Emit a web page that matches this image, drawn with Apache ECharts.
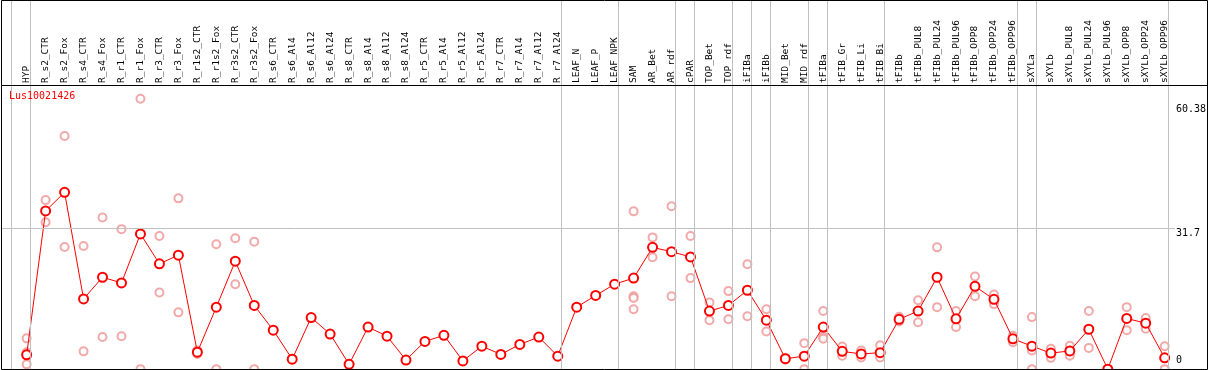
<!DOCTYPE html>
<html>
<head>
<meta charset="utf-8">
<script src="https://cdn.jsdelivr.net/npm/echarts@6/dist/echarts.min.js"></script>
<style>
  html, body { margin: 0; padding: 0; background: #fff; }
  #chart { width: 1209px; height: 370px; }
</style>
</head>
<body>
<div id="chart"></div>
<script>
const geneName = 'Lus10021426';
const categories = ['HYP','R_s2_CTR','R_s2_Fox','R_s4_CTR','R_s4_Fox','R_r1_CTR','R_r1_Fox','R_r3_CTR','R_r3_Fox',
  'R_r1s2_CTR','R_r1s2_Fox','R_r3s2_CTR','R_r3s2_Fox','R_s6_CTR','R_s6_Al4','R_s6_Al12','R_s6_Al24',
  'R_s8_CTR','R_s8_Al4','R_s8_Al12','R_s8_Al24','R_r5_CTR','R_r5_Al4','R_r5_Al12','R_r5_Al24',
  'R_r7_CTR','R_r7_Al4','R_r7_Al12','R_r7_Al24','LEAF_N','LEAF_P','LEAF_NPK','SAM','AR_Bet','AR_rdf',
  'cPAR','TOP_Bet','TOP_rdf','iFIBa','iFIBb','MID_Bet','MID_rdf','tFIBa','tFIB_Gr','tFIB_Li','tFIB_Bi',
  'tFIBb','tFIBb_PUL8','tFIBb_PUL24','tFIBb_PUL96','tFIBb_OPP8','tFIBb_OPP24','tFIBb_OPP96',
  'sXYLa','sXYLb','sXYLb_PUL8','sXYLb_PUL24','sXYLb_PUL96','sXYLb_OPP8','sXYLb_OPP24','sXYLb_OPP96'];
const means = [2.5,35.7,40.0,15.4,20.4,19.1,30.4,23.5,25.5,3.1,
  13.5,24.1,13.9,8.2,1.5,11.1,7.3,0.3,8.9,6.8,
  1.3,5.6,7.0,1.1,4.5,2.6,4.9,6.6,2.2,13.5,
  16.2,18.8,20.2,27.3,26.3,25.1,12.6,13.9,17.4,10.5,
  1.6,2.2,8.9,3.3,2.7,3.0,10.7,12.6,20.4,10.8,
  18.3,15.3,6.2,4.5,2.9,3.4,8.4,-0.8,10.9,9.8,
  1.8];
const replicates = [
  [6.3,3.1,0.3],[38.2,33.1],[53.0,27.4],[27.6,3.3],[34.2,6.6],[31.5,6.8],[61.6,-0.8],[29.9,16.9],[38.6,12.3],
  [3.5,2.7],[28.0,-0.8],[29.4,18.8],[28.6,-0.8],
  [],[],[],[],[],[],[],[],[],[],[],[],[],[],[],[],[],[],[],
  [35.6,16.0,15.6,13.0],[29.6,25.0],[36.8,16.0],[29.9,20.2],[14.6,10.5],[17.2,10.7],[23.4,11.4],[13.0,7.9],
  [1.8,1.4],[5.2,-0.8],[12.6,6.7,6.2],[4.4,2.3],[3.5,1.9],[4.7,1.9],
  [11.3,10.2],[15.1,10.0],[27.3,13.5],[12.6,8.9],[20.6,16.0],[16.4,14.2],[6.9,5.4],
  [11.2,3.5,-0.8],[3.9,1.8],[4.6,2.3],[12.6,4.1],[-0.8],[13.5,8.2],[11.0,8.5],[4.5,-0.8]
];
const yTickTop = [31.7, 60.38];
const yTickBottom = [0];
const refLine = 31.7;
const groupEnds = [-1, 0, 28, 31, 34, 35, 37, 38, 39, 41, 42, 45, 52, 53, 60];

const X_MIN = -1.3526, X_MAX = 62.121;
const Y_MIN = -1, Y_MAX = 84.37;
const FONT = 'DejaVu Sans Mono';
const GRAY = '#c0c0c0';

const repData = [];
replicates.forEach((arr, i) => arr.forEach(v => repData.push([i, v])));
const meanData = means.map((v, i) => [i, v]);
const catIdx = categories.map((c, i) => i);

const chart = echarts.init(document.getElementById('chart'), null, { renderer: 'canvas' });
chart.setOption({
  animation: false,
  backgroundColor: '#fff',
  title: {
    text: geneName, left: 9, top: 91, padding: 0,
    textStyle: { color: '#ff0000', fontSize: 10, fontWeight: 'normal', fontFamily: FONT }
  },
  grid: { left: 1, right: 2, top: 0, bottom: 0, containLabel: false },
  xAxis: [
    { type: 'value', min: X_MIN, max: X_MAX, show: false, axisLine: { onZero: false } },
    {
      type: 'value', min: X_MIN, max: X_MAX, position: 'bottom', offset: -285,
      axisLine: { show: false, onZero: false }, axisTick: { show: false }, splitLine: { show: false },
      axisLabel: {
        inside: true, rotate: 90, margin: 2, customValues: catIdx,
        formatter: v => categories[Math.round(v)] || '',
        fontFamily: FONT, fontSize: 9.5, color: '#000', hideOverlap: false
      }
    }
  ],
  yAxis: [
    {
      type: 'value', min: Y_MIN, max: Y_MAX, position: 'right',
      axisLine: { show: false, onZero: false }, axisTick: { show: false }, splitLine: { show: false },
      axisLabel: { inside: true, margin: 29, align: 'left', verticalAlign: 'top', customValues: yTickTop,
        fontFamily: FONT, fontSize: 10, color: '#000' }
    },
    {
      type: 'value', min: Y_MIN, max: Y_MAX, position: 'right',
      axisLine: { show: false, onZero: false }, axisTick: { show: false }, splitLine: { show: false },
      axisLabel: { inside: true, margin: 29, align: 'left', verticalAlign: 'bottom', customValues: yTickBottom,
        fontFamily: FONT, fontSize: 10, color: '#000' }
    }
  ],
  graphic: [
    { type: 'rect', shape: { x: 1.5, y: 0.5, width: 1206, height: 369 }, style: { fill: null, stroke: '#000', lineWidth: 1 }, z: 100, silent: true },
    { type: 'line', shape: { x1: 1, y1: 85.5, x2: 1208, y2: 85.5 }, style: { stroke: '#000', lineWidth: 1 }, z: 100, silent: true }
  ],
  series: [
    {
      type: 'scatter', xAxisIndex: 0, yAxisIndex: 0, data: repData, clip: false,
      symbol: 'emptyCircle', symbolSize: 8,
      itemStyle: { color: '#ee9494', borderColor: '#ee9494', borderWidth: 1.3 },
      silent: true, z: 2,
      markLine: {
        silent: true, symbol: ['none', 'none'], label: { show: false },
        lineStyle: { color: GRAY, type: 'solid', width: 1 },
        data: groupEnds.map(k => ({ xAxis: k + 0.21 })).concat([
          [{ coord: [X_MIN, refLine] }, { coord: [60.54, refLine] }]
        ])
      }
    },
    {
      type: 'line', xAxisIndex: 0, yAxisIndex: 0, data: meanData, clip: false,
      symbol: 'emptyCircle', symbolSize: 9,
      lineStyle: { color: '#ff0000', width: 1 },
      itemStyle: { color: '#ff0000', borderColor: '#ff0000', borderWidth: 1.6 },
      silent: true, z: 3
    }
  ]
});
</script>
</body>
</html>
